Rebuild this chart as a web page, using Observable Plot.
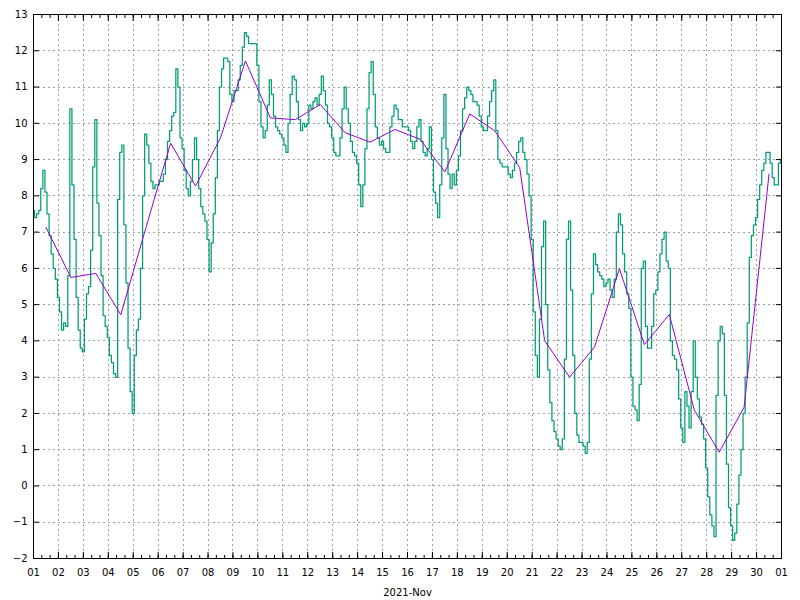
<!DOCTYPE html>
<html>
<head>
<meta charset="utf-8">
<script src="https://cdn.jsdelivr.net/npm/d3@7"></script>
<script src="https://cdn.jsdelivr.net/npm/@observablehq/plot@0.6"></script>
<style>
  html, body { margin: 0; padding: 0; background: #ffffff; }
  #chart svg { display: block; }
</style>
</head>
<body>
<div id="chart"></div>
<script>
// ---- data ----
const monthLabel = "2021-Nov";
const yTicks = [-2, -1, 0, 1, 2, 3, 4, 5, 6, 7, 8, 9, 10, 11, 12, 13];
const dayLabels = ["01","02","03","04","05","06","07","08","09","10","11","12","13","14","15",
                   "16","17","18","19","20","21","22","23","24","25","26","27","28","29","30","01"];

// 2-hourly readings, one row per day (Nov 1 .. Nov 30), plus the final Dec 1 00:00 value
const temp2h = [
  7.6, 7.4, 7.5, 7.6, 8.2, 8.7, 8.1, 7.5, 6.9, 6.4, 6.0, 5.7,
  5.2, 4.8, 4.3, 4.5, 4.4, 5.8, 10.4, 8.3, 6.8, 5.2, 4.3, 3.8,
  3.7, 4.6, 5.3, 5.5, 6.5, 8.8, 10.1, 7.8, 6.9, 5.8, 4.7, 4.4,
  4.1, 3.6, 3.4, 3.1, 3.0, 7.9, 9.2, 9.4, 7.2, 5.6, 3.8, 2.6,
  2.0, 3.6, 4.3, 4.6, 6.0, 8.0, 9.7, 9.4, 8.9, 8.4, 8.2, 8.3,
  8.3, 8.4, 8.4, 8.6, 9.0, 9.5, 9.8, 10.2, 10.3, 11.5, 11.0, 9.6,
  9.3, 8.7, 8.2, 8.0, 8.4, 9.0, 9.6, 9.0, 8.2, 7.7, 7.5, 7.3,
  6.8, 5.9, 6.7, 7.5, 8.5, 9.8, 11.0, 11.5, 11.8, 11.8, 11.7, 10.8,
  10.6, 10.9, 10.9, 11.2, 11.6, 12.1, 12.5, 12.4, 12.2, 12.2, 12.2, 12.2,
  11.6, 10.6, 9.9, 9.6, 9.8, 10.5, 11.2, 10.8, 10.2, 9.9, 9.8, 9.7,
  9.6, 9.4, 9.2, 10.0, 10.8, 11.3, 11.2, 10.6, 10.1, 9.8, 10.0, 9.9,
  10.0, 10.5, 10.4, 10.6, 10.7, 10.5, 10.8, 11.3, 10.9, 10.5, 10.0, 9.9,
  9.6, 9.2, 9.1, 9.1, 9.6, 10.4, 11.0, 10.4, 10.0, 9.5, 9.2, 9.1,
  8.9, 8.3, 7.7, 8.3, 9.3, 10.4, 11.4, 11.7, 10.8, 9.9, 9.6, 9.4,
  9.5, 9.3, 9.2, 9.2, 9.9, 10.2, 10.5, 10.4, 10.1, 10.1, 9.9, 9.9,
  9.9, 9.8, 9.5, 9.3, 9.5, 9.9, 10.1, 9.5, 9.2, 9.1, 9.3, 9.9,
  9.0, 8.1, 7.8, 7.4, 8.3, 9.6, 10.8, 9.3, 8.6, 8.2, 8.6, 8.3,
  8.7, 9.1, 9.8, 10.4, 10.7, 11.0, 10.9, 10.8, 10.6, 10.6, 10.5, 10.2,
  9.9, 9.8, 9.8, 10.2, 10.6, 10.9, 11.2, 9.8, 9.0, 8.9, 8.8, 8.8,
  8.8, 8.6, 8.5, 8.7, 8.9, 9.2, 9.5, 9.6, 9.2, 9.0, 8.6, 8.0,
  6.8, 4.8, 3.6, 3.0, 4.6, 6.6, 7.3, 5.0, 3.2, 2.3, 1.8, 1.5,
  1.3, 1.1, 1.0, 1.3, 3.5, 6.8, 7.3, 5.4, 3.6, 2.0, 1.4, 1.2,
  1.2, 1.1, 0.9, 1.2, 3.5, 5.3, 6.4, 6.1, 5.9, 5.8, 5.7, 5.5,
  5.6, 5.7, 5.4, 5.2, 5.7, 7.0, 7.5, 7.2, 6.4, 5.9, 5.3, 4.9,
  3.0, 2.2, 2.1, 1.8, 2.8, 6.0, 6.2, 4.4, 3.8, 3.8, 4.4, 5.3,
  5.4, 5.9, 6.4, 6.8, 7.0, 6.2, 6.0, 4.0, 3.6, 3.5, 3.2, 2.4,
  1.6, 1.2, 2.6, 2.2, 1.6, 2.6, 4.0, 3.0, 2.4, 1.9, 1.7, 1.3,
  0.5, -0.3, -0.8, -1.1, -1.4, 2.5, 4.0, 4.4, 4.2, 2.5, 0.6, -0.6,
  -1.1, -1.5, -1.3, -0.5, 0.3, 1.0, 2.0, 3.0, 4.5, 6.3, 6.9, 7.2,
  7.4, 7.9, 8.3, 8.7, 8.9, 9.2, 9.2, 8.9, 8.5, 8.3, 8.3, 8.9,
  9.0
];

// daily means (plotted at noon of each day)
const dailyMean = [
  7.13, 5.75, 5.86, 4.72, 7.10, 9.45, 8.27, 9.60, 11.72, 10.15,
  10.10, 10.52, 9.74, 9.48, 9.83, 9.56, 8.66, 10.26, 9.79, 8.78,
  4.01, 3.00, 3.83, 5.99, 3.90, 4.73, 2.10, 0.93, 2.17, 8.60
];

// ---- build tables ----
const HOUR = 3600e3;
const start = new Date(Date.UTC(2021, 10, 1));
const end = new Date(Date.UTC(2021, 11, 1));
const green = temp2h.map((v, i) => ({t: new Date(+start + i * 2 * HOUR), v}));
const purple = dailyMean.map((v, i) => ({t: new Date(+start + (i * 24 + 12) * HOUR), v}));
const dayTicks = dayLabels.map((_, i) => new Date(+start + i * 24 * HOUR));
const minorTicks = d3.utcHour.every(8).range(start, new Date(+end + 1));
const labelOf = d => dayLabels[Math.round((d - start) / (24 * HOUR))];

const gridStyle = {stroke: "#a0a0a0", strokeOpacity: 1, strokeWidth: 1, strokeDasharray: "2,3", shapeRendering: "crispEdges"};

const chart = Plot.plot({
  width: 800,
  height: 600,
  marginLeft: 33,
  marginRight: 19,
  marginTop: 14,
  marginBottom: 42,
  style: {fontFamily: "'DejaVu Sans', sans-serif", fontSize: "10px", background: "#ffffff", color: "#000000"},
  x: {type: "utc", domain: [start, end]},
  y: {domain: [-2, 13]},
  marks: [
    Plot.gridX(dayTicks, gridStyle),
    Plot.gridY(yTicks, gridStyle),
    Plot.line(green, {x: "t", y: "v", stroke: "#009e73", strokeWidth: 1.25, curve: "step"}),
    Plot.line(purple, {x: "t", y: "v", stroke: "#9400d3", strokeWidth: 1}),
    Plot.axisY(yTicks, {anchor: "left", tickSize: -6, tickPadding: 12, label: null, fontSize: 10}),
    Plot.axisY(yTicks, {anchor: "right", tickSize: -6, tickFormat: () => "", label: null}),
    Plot.axisX(minorTicks, {anchor: "bottom", tickSize: -3, tickFormat: () => "", label: null}),
    Plot.axisX(minorTicks, {anchor: "top", tickSize: -3, tickFormat: () => "", label: null}),
    Plot.axisX(dayTicks, {anchor: "top", tickSize: -6, tickFormat: () => "", label: null}),
    Plot.axisX(dayTicks, {anchor: "bottom", tickSize: -6, tickPadding: 16, tickFormat: labelOf,
      label: monthLabel, labelAnchor: "center", labelArrow: "none", labelOffset: 37, fontSize: 10}),
    Plot.frame({stroke: "#000000", strokeWidth: 1, shapeRendering: "crispEdges"})
  ]
});
document.getElementById("chart").appendChild(chart);
</script>
</body>
</html>
